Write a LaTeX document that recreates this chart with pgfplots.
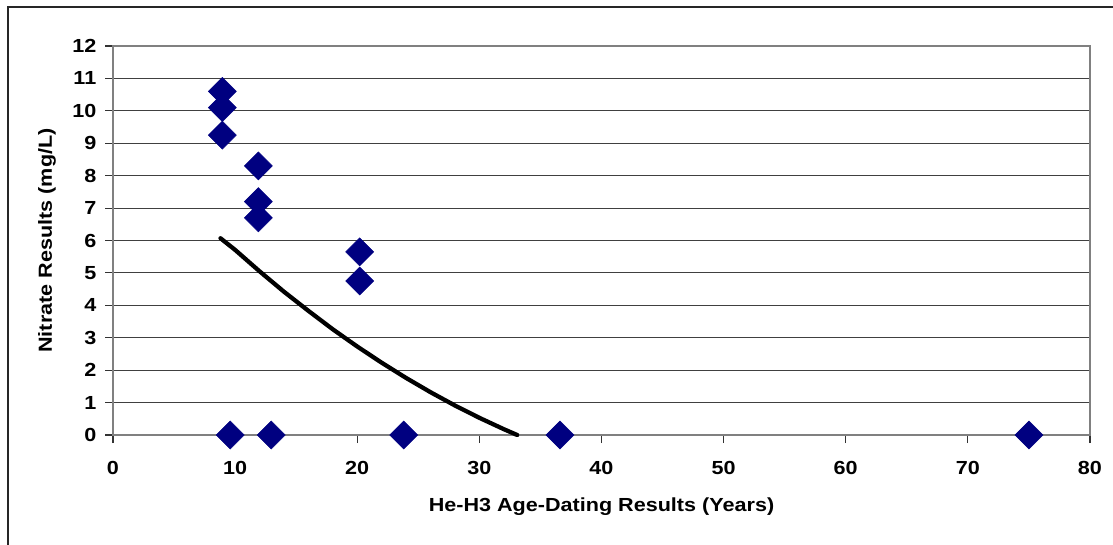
\documentclass[border=0pt]{standalone}
\usepackage{pgfplots}
\pgfplotsset{compat=1.18}
\usepackage{fontspec}
\setmainfont[FakeStretch=1.14]{Liberation Sans}
\definecolor{navy}{RGB}{0,0,128}
\definecolor{axgray}{RGB}{128,128,128}
\begin{document}
\begin{tikzpicture}
\useasboundingbox (0,0) rectangle (834.75pt,408pt);
\draw[line width=1.2pt, black!85] (6pt,-5pt) -- (6pt,402.75pt) -- (840pt,402.75pt);
\begin{axis}[
  at={(84.75pt,81.75pt)}, anchor=south west,
  scale only axis, width=732.75pt, height=291.75pt,
  xmin=0, xmax=80, ymin=0, ymax=12,
  xtick={0,10,...,80}, ytick={0,1,...,12},
  xtick pos=bottom, ytick pos=left,
  tick align=outside, major tick length=6pt,
  tick style={black!80, line width=0.8pt},
  ymajorgrids, grid style={black!75, line width=0.7pt},
  axis line style={axgray, line width=1.4pt},
  font=\fontsize{14.2}{17}\selectfont\bfseries,
  tick label style={font=\fontsize{14.2}{17}\selectfont\bfseries},
  /pgf/number format/assume math mode=true,
  yticklabel style={xshift=-3pt},
  xticklabel style={yshift=-10pt},
  xlabel={He-H3 Age-Dating Results (Years)},
  ylabel={Nitrate Results (mg/L)},
  xlabel style={at={([yshift=-54pt]axis description cs:0.5,0)}, anchor=center},
  ylabel style={at={([xshift=-49.5pt]axis description cs:0,0.5)}, anchor=center},
  clip=false,
]
\addplot[only marks, mark=diamond*, mark size=10.5pt, mark options={xscale=1.333, fill=navy, draw=navy}] coordinates {
(8.95,10.6) (8.95,10.1) (8.95,9.25)
(11.9,8.3) (11.9,7.2) (11.9,6.7)
(20.2,5.65) (20.2,4.75)
(9.6,0) (12.95,0) (23.8,0) (36.6,0) (75,0)
};
\addplot[black, line width=3.2pt, line cap=round] coordinates {
(8.8,6.07) (10,5.71) (12,5.05) (14,4.42) (16,3.83) (18,3.26) (20,2.73)
(22,2.23) (24,1.76) (26,1.32) (28,0.91) (30,0.53) (32,0.18) (33.1,0)
};
\addplot[black, line width=3pt] coordinates {(74.2,0.02) (75,0.12)};
\end{axis}
\end{tikzpicture}
\end{document}
